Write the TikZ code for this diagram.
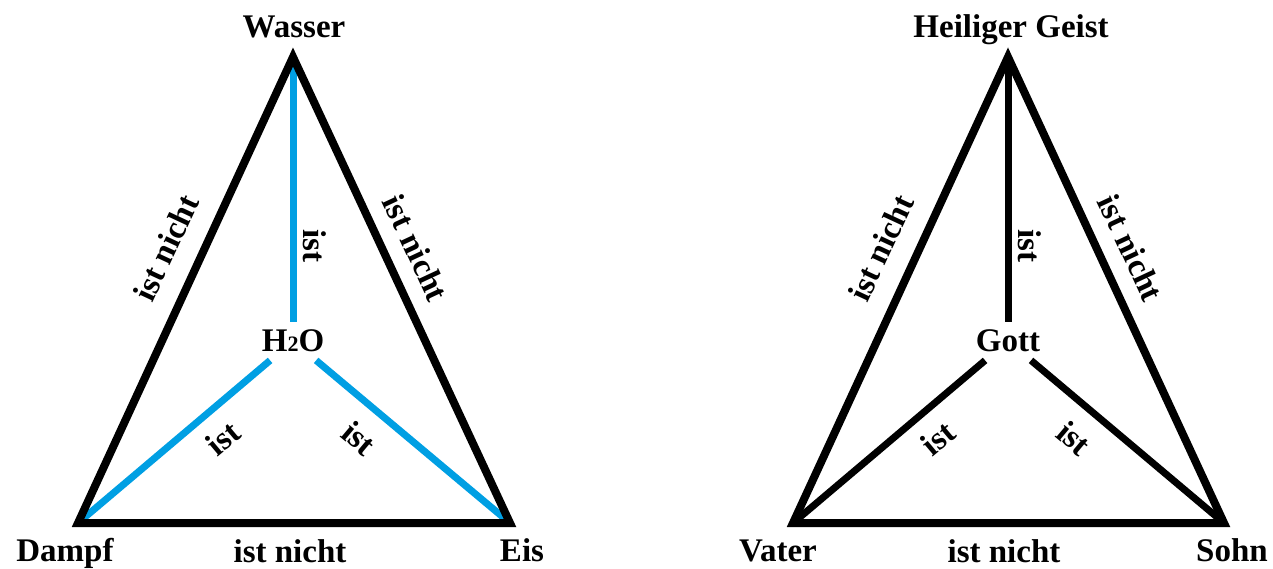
\documentclass[tikz,border=0pt]{standalone}
\usepackage{fontspec}
\setmainfont{Liberation Serif}
\usetikzlibrary{positioning}

\begin{document}
\begin{tikzpicture}[
    x=0.5pt, y=-0.5pt,
    font=\fontsize{16.5}{20}\selectfont\bfseries,
    side/.style={
        line width=4pt, line join=miter, draw=black
    },
    spoke/.style={
        line width=3.5pt, draw=#1
    },
    vlabel/.style={
        inner sep=0pt, anchor=base
    },
    rlabel/.style={
        inner sep=0pt, rotate=#1
    },
    hub/.style={
        inner sep=0pt, minimum height=19pt
    },
]

\definecolor{wblue}{RGB}{0,159,227}

\useasboundingbox (0,0) rectangle (1273,568);

% ============================================================
% Left: Wasser / Dampf / Eis
% ============================================================

\coordinate (w) at (293,57);
\coordinate (d) at (78,523);
\coordinate (e) at (510,523);

\node[hub] (h2o) at (293,341) {H{\fontsize{11}{12}\selectfont 2}O};

\draw[spoke=wblue] (h2o) -- (w);
\draw[spoke=wblue] (h2o) -- (d);
\draw[spoke=wblue] (h2o) -- (e);

\draw[side] (w) -- (d) -- (e) -- cycle;

\node[vlabel] (wasser) at (294,37) {Wasser};
\node[vlabel] (dampf) at (65,561) {Dampf};
\node[vlabel] (eis) at (522,561) {Eis};

\node[vlabel] (wne1) at (290,562) {ist nicht};
\node[rlabel=65] (wne2) at (166,248) {ist nicht};
\node[rlabel=-65] (wne3) at (416,248) {ist nicht};

\node[rlabel=-90] (wis1) at (315,246) {ist};
\node[rlabel=40] (wis2) at (223,438) {ist};
\node[rlabel=-40] (wis3) at (359,438) {ist};

% ============================================================
% Right: Heiliger Geist / Vater / Sohn
% ============================================================

\coordinate (g) at (1008,57);
\coordinate (v) at (793,523);
\coordinate (s) at (1224,523);

\node[hub] (gott) at (1008,341) {Gott};

\draw[spoke=black] (gott) -- (g);
\draw[spoke=black] (gott) -- (v);
\draw[spoke=black] (gott) -- (s);

\draw[side] (g) -- (v) -- (s) -- cycle;

\node[vlabel] (geist) at (1011,37) {Heiliger Geist};
\node[vlabel] (vater) at (778,561) {Vater};
\node[vlabel] (sohn) at (1232,561) {Sohn};

\node[vlabel] (gne1) at (1004,562) {ist nicht};
\node[rlabel=65] (gne2) at (881,248) {ist nicht};
\node[rlabel=-65] (gne3) at (1131,248) {ist nicht};

\node[rlabel=-90] (gis1) at (1030,246) {ist};
\node[rlabel=40] (gis2) at (938,438) {ist};
\node[rlabel=-40] (gis3) at (1074,438) {ist};

\end{tikzpicture}
\end{document}
